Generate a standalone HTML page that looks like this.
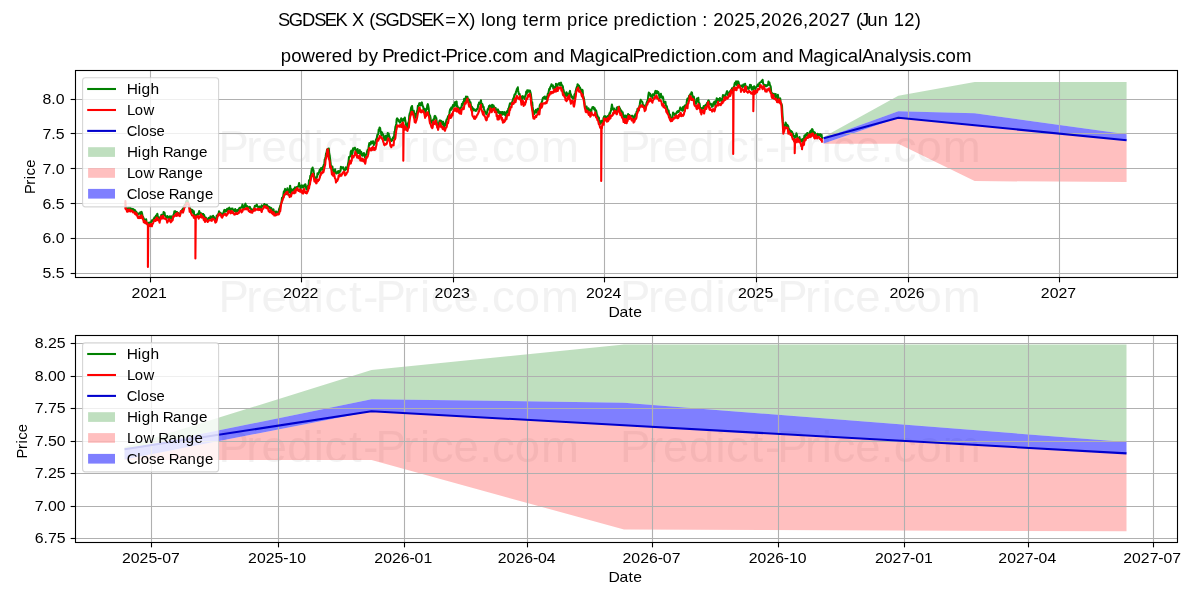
<!DOCTYPE html>
<html><head><meta charset="utf-8"><title>SGDSEK X long term price prediction</title>
<style>html,body{margin:0;padding:0;background:#fff;}svg{display:block;will-change:transform;font-family:"Liberation Sans",sans-serif;}</style></head>
<body><svg width="1200" height="600" viewBox="0 0 1200 600">
<rect x="0" y="0" width="1200" height="600" fill="#fff"/>
<text transform="translate(221.20,161.80) scale(1.0475,1)" x="-2.69 23.86 38.37 63.00 88.29 98.53 121.94 135.58 147.29 173.83 189.84 200.07 221.81 246.28 258.52 280.19 305.38" y="0" font-size="43.44" fill="#808080" fill-opacity="0.1">Predict-Price.com</text>
<text transform="translate(622.90,161.80) scale(1.0475,1)" x="-2.69 23.86 38.37 63.00 88.29 98.53 121.94 135.58 147.29 173.83 189.84 200.07 221.81 246.28 258.52 280.19 305.38" y="0" font-size="43.44" fill="#808080" fill-opacity="0.1">Predict-Price.com</text>
<text transform="translate(221.20,311.50) scale(1.0475,1)" x="-2.69 23.86 38.37 63.00 88.29 98.53 121.94 135.58 147.29 173.83 189.84 200.07 221.81 246.28 258.52 280.19 305.38" y="0" font-size="43.44" fill="#808080" fill-opacity="0.1">Predict-Price.com</text>
<text transform="translate(622.90,311.50) scale(1.0475,1)" x="-2.69 23.86 38.37 63.00 88.29 98.53 121.94 135.58 147.29 173.83 189.84 200.07 221.81 246.28 258.52 280.19 305.38" y="0" font-size="43.44" fill="#808080" fill-opacity="0.1">Predict-Price.com</text>
<text transform="translate(221.20,462.00) scale(1.0475,1)" x="-2.69 23.86 38.37 63.00 88.29 98.53 121.94 135.58 147.29 173.83 189.84 200.07 221.81 246.28 258.52 280.19 305.38" y="0" font-size="43.44" fill="#808080" fill-opacity="0.1">Predict-Price.com</text>
<text transform="translate(622.90,462.00) scale(1.0475,1)" x="-2.69 23.86 38.37 63.00 88.29 98.53 121.94 135.58 147.29 173.83 189.84 200.07 221.81 246.28 258.52 280.19 305.38" y="0" font-size="43.44" fill="#808080" fill-opacity="0.1">Predict-Price.com</text>
<clipPath id="clip1"><rect x="75.5" y="70.5" width="1102.0" height="207.0"/></clipPath>
<g clip-path="url(#clip1)">
<polygon points="823.64,136.90 898.32,95.73 974.66,82.07 1126.59,82.07 1126.59,134.27 974.66,113.18 898.32,111.31 823.64,138.24" fill="#008000" fill-opacity="0.25"/>
<polygon points="823.64,143.54 898.32,117.73 974.66,125.28 1126.59,140.32 1126.59,182.03 974.66,181.12 898.32,143.86 823.64,143.86" fill="#ff0000" fill-opacity="0.25"/>
<polygon points="823.64,138.24 898.32,111.31 974.66,113.18 1126.59,134.27 1126.59,140.32 974.66,125.28 898.32,117.73 823.64,143.54" fill="#0000ff" fill-opacity="0.5"/>
<line x1="75.5" x2="1177.5" y1="273.50" y2="273.50" stroke="#b0b0b0" stroke-width="1.11"/>
<line x1="75.5" x2="1177.5" y1="238.50" y2="238.50" stroke="#b0b0b0" stroke-width="1.11"/>
<line x1="75.5" x2="1177.5" y1="203.50" y2="203.50" stroke="#b0b0b0" stroke-width="1.11"/>
<line x1="75.5" x2="1177.5" y1="168.50" y2="168.50" stroke="#b0b0b0" stroke-width="1.11"/>
<line x1="75.5" x2="1177.5" y1="133.50" y2="133.50" stroke="#b0b0b0" stroke-width="1.11"/>
<line x1="75.5" x2="1177.5" y1="99.50" y2="99.50" stroke="#b0b0b0" stroke-width="1.11"/>
<line x1="150.50" x2="150.50" y1="70.5" y2="277.5" stroke="#b0b0b0" stroke-width="1.11"/>
<line x1="301.50" x2="301.50" y1="70.5" y2="277.5" stroke="#b0b0b0" stroke-width="1.11"/>
<line x1="453.50" x2="453.50" y1="70.5" y2="277.5" stroke="#b0b0b0" stroke-width="1.11"/>
<line x1="604.50" x2="604.50" y1="70.5" y2="277.5" stroke="#b0b0b0" stroke-width="1.11"/>
<line x1="756.50" x2="756.50" y1="70.5" y2="277.5" stroke="#b0b0b0" stroke-width="1.11"/>
<line x1="908.50" x2="908.50" y1="70.5" y2="277.5" stroke="#b0b0b0" stroke-width="1.11"/>
<line x1="1059.50" x2="1059.50" y1="70.5" y2="277.5" stroke="#b0b0b0" stroke-width="1.11"/>
<polyline points="125.4,207.1 125.9,207.1 126.3,207.3 126.8,208.1 127.2,208.5 127.7,208.8 128.1,209.7 128.6,209.7 129.0,207.4 129.4,207.7 129.9,208.2 130.3,207.8 130.8,208.6 131.2,210.2 131.7,210.2 132.1,208.8 132.6,209.1 133.0,209.8 133.5,209.2 133.9,211.3 134.4,211.4 134.8,210.0 135.3,212.4 135.7,212.0 136.2,211.6 136.6,212.4 137.1,213.9 137.5,214.8 138.0,214.8 138.4,213.5 138.9,213.8 139.3,213.4 139.8,213.7 140.2,212.3 140.7,213.8 141.1,214.7 141.6,211.9 142.0,213.2 142.5,216.0 142.9,216.7 143.4,217.8 143.8,218.9 144.3,219.7 144.7,221.2 145.2,221.4 145.6,220.5 146.1,219.2 146.5,221.7 147.0,223.5 147.4,222.7 147.9,223.4 148.3,224.0 148.8,222.7 149.2,222.6 149.7,223.5 150.1,222.5 150.6,222.4 151.0,222.2 151.5,221.4 151.9,220.3 152.4,221.1 152.8,221.1 153.3,219.8 153.7,219.2 154.2,218.1 154.6,217.3 155.1,217.3 155.5,216.8 156.0,215.6 156.4,216.1 156.9,216.0 157.3,213.7 157.8,215.8 158.2,217.0 158.7,218.3 159.1,218.0 159.6,218.2 160.0,217.5 160.5,217.0 160.9,216.1 161.4,214.8 161.8,216.1 162.3,216.8 162.7,215.1 163.2,215.1 163.6,212.1 164.1,212.5 164.5,212.7 165.0,215.7 165.4,216.1 165.9,216.4 166.3,218.1 166.8,217.1 167.2,216.0 167.7,216.5 168.1,217.8 168.6,218.4 169.0,216.7 169.5,216.7 169.9,216.3 170.4,218.1 170.8,217.1 171.3,216.4 171.7,218.7 172.2,219.5 172.6,217.7 173.1,217.5 173.5,214.7 174.0,213.9 174.4,211.4 174.9,212.2 175.3,211.3 175.8,212.5 176.2,212.3 176.7,212.0 177.1,212.0 177.6,213.4 178.0,212.8 178.5,213.8 178.9,214.4 179.4,214.2 179.8,214.5 180.3,213.8 180.7,211.4 181.2,212.0 181.6,210.9 182.1,210.0 182.5,209.6 183.0,208.8 183.4,209.0 183.9,206.2 184.3,206.8 184.8,204.8 185.2,204.8 185.7,204.2 186.1,201.7 186.6,200.9 187.0,200.3 187.5,200.4 187.9,201.9 188.4,203.4 188.8,205.7 189.3,205.9 189.7,208.3 190.2,208.4 190.6,209.1 191.1,210.8 191.5,211.3 192.0,212.1 192.4,209.9 192.9,212.7 193.3,212.4 193.8,211.3 194.2,215.3 194.7,215.5 195.1,215.1 195.6,216.0 196.0,215.1 196.5,215.6 196.9,214.7 197.4,214.1 197.8,214.3 198.3,213.3 198.7,214.5 199.2,211.0 199.6,212.4 200.1,212.8 200.5,213.5 201.0,214.5 201.4,213.4 201.9,215.6 202.3,214.3 202.8,214.8 203.2,214.0 203.7,216.1 204.1,214.9 204.6,217.1 205.0,218.1 205.5,218.3 205.9,217.7 206.4,219.1 206.8,219.1 207.3,219.3 207.7,219.1 208.2,219.4 208.6,217.9 209.1,218.0 209.5,218.0 210.0,218.0 210.4,216.4 210.9,218.0 211.3,217.6 211.8,216.7 212.2,217.5 212.7,218.5 213.1,215.7 213.6,218.7 214.0,217.1 214.5,218.4 214.9,218.6 215.4,219.3 215.8,219.4 216.3,218.6 216.7,215.7 217.2,215.5 217.6,215.1 218.1,214.1 218.5,214.6 219.0,211.4 219.4,213.3 219.9,213.1 220.3,212.7 220.8,213.1 221.2,214.7 221.7,214.7 222.1,214.6 222.6,213.9 223.0,214.1 223.5,212.7 223.9,211.2 224.4,209.9 224.8,211.7 225.3,211.7 225.7,210.1 226.2,211.3 226.6,210.3 227.1,208.8 227.5,210.8 228.0,210.5 228.4,208.5 228.9,208.3 229.3,207.7 229.8,209.0 230.2,209.8 230.7,210.5 231.1,209.4 231.6,208.6 232.0,209.5 232.5,208.5 232.9,209.8 233.4,210.2 233.8,210.1 234.3,211.4 234.7,211.0 235.2,209.1 235.6,211.1 236.1,211.9 236.5,210.3 237.0,210.5 237.4,211.2 237.9,209.9 238.3,209.9 238.8,210.0 239.2,208.2 239.7,207.8 240.1,208.1 240.6,208.2 241.0,207.5 241.5,207.0 241.9,207.1 242.4,204.6 242.8,206.0 243.3,208.4 243.7,208.2 244.2,207.6 244.6,206.1 245.1,204.5 245.5,203.7 246.0,206.6 246.4,206.0 246.9,205.9 247.3,206.3 247.8,207.1 248.2,208.7 248.7,207.8 249.1,207.2 249.6,206.8 250.0,207.1 250.5,208.6 250.9,208.7 251.4,209.7 251.8,209.6 252.3,210.1 252.7,211.3 253.2,210.2 253.6,208.8 254.1,209.9 254.5,207.2 255.0,205.7 255.4,206.0 255.9,206.2 256.3,205.3 256.8,204.6 257.2,206.2 257.7,206.3 258.1,206.8 258.6,208.4 259.0,207.5 259.5,206.6 259.9,206.6 260.4,207.5 260.8,209.5 261.3,207.9 261.7,205.3 262.2,206.1 262.6,206.5 263.1,206.4 263.5,206.7 264.0,205.0 264.4,204.0 264.9,205.1 265.3,205.4 265.8,205.0 266.2,204.9 266.7,205.2 267.1,205.1 267.6,206.5 268.0,207.2 268.5,206.5 268.9,206.9 269.4,207.7 269.8,207.3 270.3,208.0 270.7,210.0 271.2,207.9 271.6,208.8 272.1,209.9 272.5,210.0 273.0,210.0 273.4,209.4 273.9,211.1 274.3,212.0 274.8,214.4 275.2,212.6 275.7,213.0 276.1,211.4 276.6,212.2 277.0,212.1 277.5,212.7 277.9,212.4 278.4,213.0 278.8,210.6 279.3,208.4 279.7,208.1 280.2,205.9 280.6,204.9 281.1,203.4 281.5,202.4 282.0,197.8 282.4,198.2 282.9,198.2 283.3,195.3 283.8,191.8 284.2,191.6 284.7,190.4 285.1,188.9 285.6,192.0 286.0,194.3 286.5,191.9 286.9,192.5 287.4,188.4 287.8,190.8 288.3,194.4 288.7,192.6 289.2,192.1 289.6,189.7 290.1,185.7 290.5,188.4 291.0,193.1 291.4,191.2 291.9,189.4 292.3,190.6 292.8,190.0 293.2,190.7 293.7,189.3 294.1,188.6 294.6,190.3 295.0,187.4 295.5,187.8 295.9,189.5 296.4,189.0 296.8,187.1 297.3,187.9 297.7,186.5 298.2,186.5 298.6,185.8 299.1,183.0 299.5,185.9 300.0,185.5 300.4,188.1 300.9,187.9 301.3,186.9 301.8,185.4 302.2,185.6 302.7,187.4 303.1,185.6 303.6,186.5 304.0,186.8 304.5,185.9 304.9,184.4 305.4,184.3 305.8,186.1 306.3,189.2 306.7,188.9 307.2,189.8 307.6,187.5 308.1,185.6 308.5,187.0 309.0,180.4 309.4,180.1 309.9,179.5 310.3,175.9 310.8,176.4 311.2,172.9 311.7,169.2 312.1,168.9 312.6,167.5 313.0,169.0 313.5,170.4 313.9,174.0 314.4,177.7 314.8,177.3 315.3,181.3 315.7,180.9 316.2,177.4 316.6,177.2 317.1,177.0 317.5,173.3 318.0,174.1 318.4,174.2 318.9,172.7 319.3,171.2 319.8,169.5 320.2,171.8 320.7,169.9 321.1,168.0 321.6,169.3 322.0,168.9 322.5,169.6 322.9,166.9 323.4,166.3 323.8,164.9 324.3,164.3 324.7,159.7 325.2,158.3 325.6,157.0 326.1,153.4 326.5,152.8 327.0,149.8 327.4,149.6 327.9,148.8 328.3,150.8 328.8,148.6 329.2,153.6 329.7,155.6 330.1,159.1 330.6,163.2 331.0,166.9 331.5,168.6 331.9,168.8 332.4,166.6 332.8,169.6 333.3,171.2 333.7,172.0 334.2,171.3 334.6,172.8 335.1,169.3 335.5,172.4 336.0,171.9 336.4,173.5 336.9,173.3 337.3,172.2 337.8,171.8 338.2,171.1 338.7,173.0 339.1,171.2 339.6,172.3 340.0,170.9 340.5,170.9 340.9,166.9 341.4,168.4 341.8,167.9 342.3,167.6 342.7,167.2 343.2,167.3 343.6,169.2 344.1,170.1 344.5,170.1 345.0,170.0 345.4,169.8 345.9,167.3 346.3,169.1 346.8,168.4 347.2,167.8 347.7,166.2 348.1,163.7 348.6,161.1 349.0,157.1 349.5,156.7 349.9,156.6 350.4,155.8 350.8,151.6 351.3,150.6 351.7,156.0 352.2,154.1 352.6,152.3 353.1,148.4 353.5,150.0 354.0,148.9 354.4,148.1 354.9,147.7 355.3,148.7 355.8,150.3 356.2,150.1 356.7,150.4 357.1,153.3 357.6,149.1 358.0,152.5 358.5,153.0 358.9,151.2 359.4,150.4 359.8,150.2 360.3,154.3 360.7,152.5 361.2,151.9 361.6,152.8 362.1,155.6 362.5,155.6 363.0,155.2 363.4,154.9 363.9,153.1 364.3,154.7 364.8,156.9 365.2,158.0 365.7,155.6 366.1,154.4 366.6,154.0 367.0,151.9 367.5,150.3 367.9,149.6 368.4,149.3 368.8,146.0 369.3,143.1 369.7,144.7 370.2,144.3 370.6,144.4 371.1,141.6 371.5,142.8 372.0,142.9 372.4,142.2 372.9,141.3 373.3,141.2 373.8,145.1 374.2,144.1 374.7,143.8 375.1,143.5 375.6,141.5 376.0,139.4 376.5,139.9 376.9,137.4 377.4,134.8 377.8,134.9 378.3,133.9 378.7,129.7 379.2,129.4 379.6,127.6 380.1,128.0 380.5,130.9 381.0,132.4 381.4,135.1 381.9,132.2 382.3,133.1 382.8,134.5 383.2,134.5 383.7,138.7 384.1,138.7 384.6,139.3 385.0,140.2 385.5,135.8 385.9,136.0 386.4,136.1 386.8,139.9 387.3,136.5 387.7,133.1 388.2,135.4 388.6,133.5 389.1,136.5 389.5,136.6 390.0,139.2 390.4,140.1 390.9,139.4 391.3,141.1 391.8,140.7 392.2,140.2 392.7,138.3 393.1,137.4 393.6,138.3 394.0,137.9 394.5,131.6 394.9,131.4 395.4,126.9 395.8,126.0 396.3,123.7 396.7,119.2 397.2,118.3 397.6,119.0 398.1,120.4 398.5,119.6 399.0,121.5 399.4,121.0 399.9,122.7 400.3,122.0 400.8,120.3 401.2,118.3 401.7,119.2 402.1,120.1 402.6,121.2 403.0,119.5 403.5,118.9 403.9,119.1 404.4,120.4 404.8,117.5 405.3,120.8 405.7,122.7 406.2,125.3 406.6,127.4 407.1,130.0 407.5,128.8 408.0,123.3 408.4,122.6 408.9,121.0 409.3,115.4 409.8,113.2 410.2,112.8 410.7,110.1 411.1,107.8 411.6,106.8 412.0,106.0 412.5,109.9 412.9,111.9 413.4,111.6 413.8,110.8 414.3,114.5 414.7,118.1 415.2,116.2 415.6,117.8 416.1,113.7 416.5,113.9 417.0,111.1 417.4,110.8 417.9,105.8 418.3,106.1 418.8,105.7 419.2,103.3 419.7,104.0 420.1,103.2 420.6,105.5 421.0,105.1 421.5,104.0 421.9,102.4 422.4,105.2 422.8,106.1 423.3,107.2 423.7,109.7 424.2,108.7 424.6,109.5 425.1,112.9 425.5,112.9 426.0,110.3 426.4,108.6 426.9,108.9 427.3,105.3 427.8,104.1 428.2,105.8 428.7,108.5 429.1,113.8 429.6,116.2 430.0,115.4 430.5,117.7 430.9,121.4 431.4,122.4 431.8,121.0 432.3,123.4 432.7,120.4 433.2,119.9 433.6,119.1 434.1,119.6 434.5,116.3 435.0,115.9 435.4,116.3 435.9,117.8 436.3,118.1 436.8,122.5 437.2,125.5 437.7,126.0 438.1,126.4 438.6,123.5 439.0,122.9 439.5,120.8 439.9,120.3 440.4,120.7 440.8,122.7 441.3,120.9 441.7,123.6 442.2,123.2 442.6,124.5 443.1,121.8 443.5,123.2 444.0,127.4 444.4,127.4 444.9,123.8 445.3,125.1 445.8,123.5 446.2,121.0 446.7,119.4 447.1,119.5 447.6,118.2 448.0,116.5 448.5,115.9 448.9,115.2 449.4,113.5 449.8,110.7 450.3,109.0 450.7,110.0 451.2,107.6 451.6,109.6 452.1,107.7 452.5,106.9 453.0,105.0 453.4,105.1 453.9,106.6 454.3,105.1 454.8,102.2 455.2,105.8 455.7,103.4 456.1,101.8 456.6,101.5 457.0,106.3 457.5,106.1 457.9,107.9 458.4,107.5 458.8,108.8 459.3,109.0 459.7,109.5 460.2,109.4 460.6,107.7 461.1,107.4 461.5,107.0 462.0,103.7 462.4,105.2 462.9,104.1 463.3,101.8 463.8,102.3 464.2,98.7 464.7,103.2 465.1,100.9 465.6,99.4 466.0,96.6 466.5,99.2 466.9,98.6 467.4,96.8 467.8,99.1 468.3,100.2 468.7,99.4 469.2,99.6 469.6,101.6 470.1,102.9 470.5,102.3 471.0,105.8 471.4,108.6 471.9,106.8 472.3,108.8 472.8,108.1 473.2,109.8 473.7,110.5 474.1,110.2 474.6,109.3 475.0,110.3 475.5,110.8 475.9,110.9 476.4,110.6 476.8,109.3 477.3,108.8 477.7,108.9 478.2,104.8 478.6,104.5 479.1,102.5 479.5,102.9 480.0,104.1 480.4,103.9 480.9,100.2 481.3,103.1 481.8,104.4 482.2,103.8 482.7,105.1 483.1,107.2 483.6,106.8 484.0,108.9 484.5,110.9 484.9,111.3 485.4,112.7 485.8,112.3 486.3,114.3 486.7,113.8 487.2,111.9 487.6,109.7 488.1,108.6 488.5,109.5 489.0,106.1 489.4,106.5 489.9,105.4 490.3,107.0 490.8,110.1 491.2,107.3 491.7,106.2 492.1,104.8 492.6,106.5 493.0,107.2 493.5,105.4 493.9,106.7 494.4,107.2 494.8,109.1 495.3,109.9 495.7,108.1 496.2,110.6 496.6,109.6 497.1,110.1 497.5,112.3 498.0,109.4 498.4,112.6 498.9,112.0 499.3,111.6 499.8,113.6 500.2,114.8 500.7,112.2 501.1,112.1 501.6,113.3 502.0,114.8 502.5,112.1 502.9,114.5 503.4,112.4 503.8,113.9 504.3,113.1 504.7,112.1 505.2,115.3 505.6,114.3 506.1,116.3 506.5,113.7 507.0,111.2 507.4,111.1 507.9,112.5 508.3,108.6 508.8,109.2 509.2,106.5 509.7,104.4 510.1,103.2 510.6,103.5 511.0,103.5 511.5,104.0 511.9,103.0 512.4,101.7 512.8,100.0 513.3,98.4 513.7,98.5 514.2,96.0 514.6,94.5 515.1,94.1 515.5,94.3 516.0,91.8 516.4,91.0 516.9,89.1 517.3,88.7 517.8,87.3 518.2,90.9 518.7,93.3 519.1,94.3 519.6,93.9 520.0,96.2 520.5,96.5 520.9,96.7 521.4,100.3 521.8,100.7 522.3,96.4 522.7,96.1 523.2,97.4 523.6,96.7 524.1,97.7 524.5,98.9 525.0,96.3 525.4,96.4 525.9,94.0 526.3,91.5 526.8,93.5 527.2,90.3 527.7,90.8 528.1,90.3 528.6,91.7 529.0,91.8 529.5,90.7 529.9,90.5 530.4,92.2 530.8,93.9 531.3,97.9 531.7,103.7 532.2,102.3 532.6,106.7 533.1,110.8 533.5,110.7 534.0,114.3 534.4,112.2 534.9,111.8 535.3,112.3 535.8,109.9 536.2,112.6 536.7,112.4 537.1,111.5 537.6,108.7 538.0,109.7 538.5,111.1 538.9,110.8 539.4,108.6 539.8,105.2 540.3,104.3 540.7,104.1 541.2,105.7 541.6,102.5 542.1,101.4 542.5,99.4 543.0,97.7 543.4,98.1 543.9,97.1 544.3,97.8 544.8,96.5 545.2,98.7 545.7,97.6 546.1,97.3 546.6,99.6 547.0,96.6 547.5,95.8 547.9,93.5 548.4,93.9 548.8,91.0 549.3,88.8 549.7,89.5 550.2,87.2 550.6,86.6 551.1,85.8 551.5,84.2 552.0,85.9 552.4,85.6 552.9,85.4 553.3,88.5 553.8,87.8 554.2,88.1 554.7,86.9 555.1,86.8 555.6,87.6 556.0,83.7 556.5,86.5 556.9,87.0 557.4,86.5 557.8,84.6 558.3,83.9 558.7,83.5 559.2,83.1 559.6,83.5 560.1,85.5 560.5,83.6 561.0,82.7 561.4,84.5 561.9,85.0 562.3,86.1 562.8,86.3 563.2,89.0 563.7,90.8 564.1,92.9 564.6,94.2 565.0,93.6 565.5,96.5 565.9,94.9 566.4,92.2 566.8,94.8 567.3,93.4 567.7,96.3 568.2,94.1 568.6,95.6 569.1,96.5 569.5,92.3 570.0,90.9 570.4,94.1 570.9,94.3 571.3,97.1 571.8,96.1 572.2,96.9 572.7,98.4 573.1,98.8 573.6,98.7 574.0,98.5 574.5,94.5 574.9,94.3 575.4,92.5 575.8,90.6 576.3,88.9 576.7,87.3 577.2,86.1 577.6,84.3 578.1,85.4 578.5,86.5 579.0,85.6 579.4,87.7 579.9,87.3 580.3,88.3 580.8,90.0 581.2,90.8 581.7,91.5 582.1,89.7 582.6,90.2 583.0,95.2 583.5,97.2 583.9,98.1 584.4,101.9 584.8,105.7 585.3,108.3 585.7,107.5 586.2,106.5 586.6,106.6 587.1,111.4 587.5,111.8 588.0,110.3 588.4,108.3 588.9,109.4 589.3,110.3 589.8,110.7 590.2,109.8 590.7,111.3 591.1,112.4 591.6,109.3 592.0,108.4 592.5,107.2 592.9,107.5 593.4,107.0 593.8,108.6 594.3,109.5 594.7,108.3 595.2,110.6 595.6,111.5 596.1,110.4 596.5,112.5 597.0,115.2 597.4,115.3 597.9,118.3 598.3,119.8 598.8,117.5 599.2,119.9 599.7,122.2 600.1,123.9 600.6,123.2 601.0,123.0 601.5,120.7 601.9,121.0 602.4,122.3 602.8,121.0 603.3,119.3 603.7,117.6 604.2,116.4 604.6,117.1 605.1,116.1 605.5,118.4 606.0,120.4 606.4,116.9 606.9,117.7 607.3,118.1 607.8,115.9 608.2,115.8 608.7,116.0 609.2,114.7 609.6,113.1 610.1,113.5 610.5,111.6 611.0,110.5 611.4,108.3 611.9,104.6 612.3,106.4 612.8,109.1 613.2,109.2 613.7,110.2 614.1,108.5 614.6,112.8 615.0,110.8 615.5,111.2 615.9,112.0 616.4,110.1 616.8,107.7 617.3,107.2 617.7,107.8 618.2,109.8 618.6,107.5 619.1,106.7 619.5,108.3 620.0,108.5 620.4,110.4 620.9,110.9 621.3,110.5 621.8,112.6 622.2,112.2 622.7,112.3 623.1,114.8 623.6,116.9 624.0,115.6 624.5,116.4 624.9,117.6 625.4,115.6 625.8,117.6 626.3,117.6 626.7,115.9 627.2,119.0 627.6,116.3 628.1,114.0 628.5,115.2 629.0,116.9 629.4,115.0 629.9,117.8 630.3,116.3 630.8,116.2 631.2,116.4 631.7,115.8 632.1,115.7 632.6,115.8 633.0,116.6 633.5,118.7 633.9,118.7 634.4,118.7 634.8,117.0 635.3,114.2 635.7,115.4 636.2,114.0 636.6,111.6 637.1,111.4 637.5,108.9 638.0,109.8 638.4,110.1 638.9,110.4 639.3,106.4 639.8,104.4 640.2,101.6 640.7,99.7 641.1,101.3 641.6,101.2 642.0,101.6 642.5,102.5 642.9,105.8 643.4,106.4 643.8,105.2 644.3,106.0 644.7,108.7 645.2,108.9 645.6,106.9 646.1,105.3 646.5,103.1 647.0,101.8 647.4,101.1 647.9,99.7 648.3,95.6 648.8,92.6 649.2,93.2 649.7,94.3 650.1,93.7 650.6,96.1 651.0,95.5 651.5,95.6 651.9,95.9 652.4,98.0 652.8,94.2 653.3,94.5 653.7,94.9 654.2,95.2 654.6,93.9 655.1,92.1 655.5,90.9 656.0,91.0 656.4,93.1 656.9,93.2 657.3,91.2 657.8,93.0 658.2,91.9 658.7,93.4 659.1,95.4 659.6,98.2 660.0,96.1 660.5,95.1 660.9,93.8 661.4,96.9 661.8,97.5 662.3,97.8 662.7,96.6 663.2,98.1 663.6,101.0 664.1,102.6 664.5,102.7 665.0,103.1 665.4,101.7 665.9,105.8 666.3,105.7 666.8,106.3 667.2,108.4 667.7,110.0 668.1,111.7 668.6,110.4 669.0,113.8 669.5,114.4 669.9,114.5 670.4,118.1 670.8,118.6 671.3,120.0 671.7,118.0 672.2,118.7 672.6,115.8 673.1,112.5 673.5,114.1 674.0,114.2 674.4,113.8 674.9,115.1 675.3,113.7 675.8,114.1 676.2,113.4 676.7,112.4 677.1,111.6 677.6,112.4 678.0,111.1 678.5,111.8 678.9,111.3 679.4,110.6 679.8,109.3 680.3,107.4 680.7,108.0 681.2,109.7 681.6,110.0 682.1,108.6 682.5,110.8 683.0,107.1 683.4,110.2 683.9,106.6 684.3,107.5 684.8,105.5 685.2,106.7 685.7,107.3 686.1,105.6 686.6,103.2 687.0,100.3 687.5,98.5 687.9,99.0 688.4,99.3 688.8,97.5 689.3,95.5 689.7,96.1 690.2,94.5 690.6,94.0 691.1,94.1 691.5,92.2 692.0,92.7 692.4,96.6 692.9,96.3 693.3,97.9 693.8,96.6 694.2,98.9 694.7,102.8 695.1,103.0 695.6,103.2 696.0,103.8 696.5,101.9 696.9,98.5 697.4,99.3 697.8,99.3 698.3,97.8 698.7,102.3 699.2,102.9 699.6,103.7 700.1,108.3 700.5,108.9 701.0,107.9 701.4,109.3 701.9,109.9 702.3,109.4 702.8,107.7 703.2,107.9 703.7,106.1 704.1,108.1 704.6,107.3 705.0,105.7 705.5,105.0 705.9,106.0 706.4,105.4 706.8,103.3 707.3,102.7 707.7,102.8 708.2,100.8 708.6,100.4 709.1,101.4 709.5,103.9 710.0,104.3 710.4,103.8 710.9,103.7 711.3,104.4 711.8,106.8 712.2,106.0 712.7,106.5 713.1,103.9 713.6,102.9 714.0,102.3 714.5,101.6 714.9,104.5 715.4,105.4 715.8,101.1 716.3,102.4 716.7,98.3 717.2,99.4 717.6,99.6 718.1,99.0 718.5,101.5 719.0,99.3 719.4,100.7 719.9,98.1 720.3,98.7 720.8,100.3 721.2,100.8 721.7,101.3 722.1,99.8 722.6,97.3 723.0,95.0 723.5,96.2 723.9,97.0 724.4,96.2 724.8,95.3 725.3,97.3 725.7,94.1 726.2,93.9 726.6,92.2 727.1,91.1 727.5,92.5 728.0,95.1 728.4,92.8 728.9,93.1 729.3,92.2 729.8,92.1 730.2,91.0 730.7,90.6 731.1,90.9 731.6,90.0 732.0,88.2 732.5,89.8 732.9,90.4 733.4,87.9 733.8,87.0 734.3,85.3 734.7,83.4 735.2,82.6 735.6,84.5 736.1,81.4 736.5,81.9 737.0,85.0 737.4,82.1 737.9,81.4 738.3,81.5 738.8,83.0 739.2,87.1 739.7,85.5 740.1,85.9 740.6,86.0 741.0,85.7 741.5,86.2 741.9,85.6 742.4,86.1 742.8,87.1 743.3,84.5 743.7,84.8 744.2,84.5 744.6,85.7 745.1,83.7 745.5,86.9 746.0,87.6 746.4,87.7 746.9,86.7 747.3,87.5 747.8,88.7 748.2,87.6 748.7,88.9 749.1,87.4 749.6,87.6 750.0,84.7 750.5,86.7 750.9,85.1 751.4,87.7 751.8,89.6 752.3,87.2 752.7,87.2 753.2,89.6 753.6,87.3 754.1,86.3 754.5,87.5 755.0,88.0 755.4,89.0 755.9,87.3 756.3,87.2 756.8,86.3 757.2,86.2 757.7,84.5 758.1,85.6 758.6,85.9 759.0,84.4 759.5,82.9 759.9,82.9 760.4,82.3 760.8,82.0 761.3,82.0 761.7,80.9 762.2,81.8 762.6,79.8 763.1,83.3 763.5,84.1 764.0,85.2 764.4,86.0 764.9,85.0 765.3,86.0 765.8,85.4 766.2,85.7 766.7,86.2 767.1,85.2 767.6,84.5 768.0,85.2 768.5,81.5 768.9,83.2 769.4,82.6 769.8,84.8 770.3,85.8 770.7,86.6 771.2,92.0 771.6,93.1 772.1,93.1 772.5,94.3 773.0,94.1 773.4,95.4 773.9,93.8 774.3,95.3 774.8,96.6 775.2,96.7 775.7,94.1 776.1,99.5 776.6,99.4 777.0,100.1 777.5,97.5 777.9,94.9 778.4,97.9 778.8,98.4 779.3,100.6 779.7,99.1 780.2,98.3 780.6,102.6 781.1,103.7 781.5,104.1 782.0,105.8 782.4,113.4 782.9,121.9 783.3,126.2 783.8,127.3 784.2,126.3 784.7,124.7 785.1,127.2 785.6,122.6 786.0,123.5 786.5,126.2 786.9,124.7 787.4,124.9 787.8,125.6 788.3,126.5 788.7,129.3 789.2,129.2 789.6,129.5 790.1,130.8 790.5,131.9 791.0,131.0 791.4,132.5 791.9,131.7 792.3,136.1 792.8,133.3 793.2,135.0 793.7,135.9 794.1,136.7 794.6,138.0 795.0,137.7 795.5,135.6 795.9,136.2 796.4,133.3 796.8,134.4 797.3,137.3 797.7,139.6 798.2,139.8 798.6,139.5 799.1,139.0 799.5,137.1 800.0,140.7 800.4,141.3 800.9,141.8 801.3,139.6 801.8,140.9 802.2,140.2 802.7,139.1 803.1,143.0 803.6,140.8 804.0,138.1 804.5,135.5 804.9,138.5 805.4,136.0 805.8,134.6 806.3,134.8 806.7,133.8 807.2,133.0 807.6,135.6 808.1,137.5 808.5,135.4 809.0,133.6 809.4,133.6 809.9,131.9 810.3,131.5 810.8,130.6 811.2,133.4 811.7,132.5 812.1,129.0 812.6,129.7 813.0,132.5 813.5,131.7 813.9,133.2 814.4,134.1 814.8,132.4 815.3,133.9 815.7,137.6 816.2,135.1 816.6,136.2 817.1,135.1 817.5,133.8 818.0,134.1 818.4,135.0 818.9,134.3 819.3,135.3 819.8,135.2 820.2,134.2 820.7,136.3 821.1,136.0 821.6,134.8 822.0,138.3 822.5,136.8" fill="none" stroke="#008000" stroke-width="2.08" stroke-linejoin="round"/>
<polyline points="125.4,209.0 125.4,201.0 125.8,209.0 125.4,208.7 125.9,209.3 126.3,208.9 126.8,210.9 127.2,211.8 127.7,211.8 128.1,209.9 128.6,211.3 129.0,209.5 129.4,209.6 129.9,210.7 130.3,211.4 130.8,211.4 131.2,210.4 131.7,211.2 132.1,210.7 132.6,211.1 133.0,212.4 133.5,212.2 133.9,212.2 134.4,212.2 134.8,213.7 135.3,214.1 135.7,212.5 136.2,214.0 136.6,215.4 137.1,214.3 137.5,216.1 138.0,217.9 138.4,217.5 138.9,218.1 139.3,217.4 139.8,216.3 140.2,218.0 140.7,215.9 141.1,217.9 141.6,215.3 142.0,217.1 142.5,216.9 142.9,219.5 143.4,220.2 143.8,222.2 144.3,222.5 144.7,221.0 145.2,223.2 145.6,221.3 146.1,223.6 146.5,223.7 147.0,222.9 147.4,224.6 147.9,225.3 147.9,225.0 147.9,267.0 148.3,225.0 148.3,225.2 148.8,224.5 149.2,225.8 149.7,224.5 150.1,226.2 150.6,224.1 151.0,224.5 151.5,226.2 151.9,226.2 152.4,223.5 152.8,223.8 153.3,222.6 153.7,221.4 154.2,220.0 154.6,220.1 155.1,220.1 155.5,221.0 156.0,218.7 156.4,217.9 156.9,217.5 157.3,220.1 157.8,218.5 158.2,219.8 158.7,219.8 159.1,220.9 159.6,222.8 160.0,220.4 160.5,219.5 160.9,216.4 161.4,218.5 161.8,218.0 162.3,218.5 162.7,215.9 163.2,215.9 163.6,217.7 164.1,218.6 164.5,218.8 165.0,218.6 165.4,218.4 165.9,219.4 166.3,219.2 166.8,220.4 167.2,222.6 167.7,221.8 168.1,220.9 168.6,220.7 169.0,219.1 169.5,220.7 169.9,219.8 170.4,221.5 170.8,222.3 171.3,221.1 171.7,221.3 172.2,219.6 172.6,220.4 173.1,216.8 173.5,216.4 174.0,216.1 174.4,216.3 174.9,215.3 175.3,215.7 175.8,214.0 176.2,214.4 176.7,216.0 177.1,213.3 177.6,212.8 178.0,214.9 178.5,215.4 178.9,215.3 179.4,215.0 179.8,216.2 180.3,214.4 180.7,212.4 181.2,211.0 181.6,210.8 182.1,211.3 182.5,210.8 183.0,212.6 183.4,211.5 183.9,209.8 184.3,208.1 184.8,205.8 185.2,206.9 185.7,205.8 186.1,205.2 186.6,202.9 187.0,204.0 187.5,203.3 187.9,203.1 188.4,203.9 188.8,204.7 189.3,208.3 189.7,211.8 190.2,210.0 190.6,212.0 191.1,213.5 191.5,214.2 192.0,215.4 192.4,215.3 192.9,216.0 193.3,215.4 193.8,217.7 194.2,217.4 194.7,216.3 195.1,218.9 195.4,217.4 195.4,258.5 195.8,217.4 195.6,218.7 196.0,216.9 196.5,217.3 196.9,217.1 197.4,216.0 197.8,217.3 198.3,216.1 198.7,218.6 199.2,217.4 199.6,216.6 200.1,217.2 200.5,216.2 201.0,214.2 201.4,215.8 201.9,217.6 202.3,215.9 202.8,217.0 203.2,217.0 203.7,219.9 204.1,218.1 204.6,220.6 205.0,222.0 205.5,220.3 205.9,218.7 206.4,220.4 206.8,220.6 207.3,221.5 207.7,221.9 208.2,221.0 208.6,220.9 209.1,220.1 209.5,220.2 210.0,220.2 210.4,220.0 210.9,220.4 211.3,220.7 211.8,220.9 212.2,218.8 212.7,218.9 213.1,218.9 213.6,219.0 214.0,219.7 214.5,219.7 214.9,221.0 215.4,222.6 215.8,221.6 216.3,221.8 216.7,220.5 217.2,218.2 217.6,216.4 218.1,215.9 218.5,214.2 219.0,214.2 219.4,213.5 219.9,213.6 220.3,215.4 220.8,214.4 221.2,216.0 221.7,217.5 222.1,217.6 222.6,216.8 223.0,215.9 223.5,214.6 223.9,214.9 224.4,214.5 224.8,213.9 225.3,214.7 225.7,214.1 226.2,215.7 226.6,215.5 227.1,214.1 227.5,214.3 228.0,211.6 228.4,212.9 228.9,210.9 229.3,211.1 229.8,211.7 230.2,212.4 230.7,213.4 231.1,211.3 231.6,210.9 232.0,211.9 232.5,213.1 232.9,212.0 233.4,212.8 233.8,213.4 234.3,214.6 234.7,214.4 235.2,214.5 235.6,213.9 236.1,212.9 236.5,213.8 237.0,213.5 237.4,213.9 237.9,213.3 238.3,212.7 238.8,213.1 239.2,211.6 239.7,211.2 240.1,210.0 240.6,209.9 241.0,210.7 241.5,212.5 241.9,211.9 242.4,211.5 242.8,209.3 243.3,209.6 243.7,209.3 244.2,209.4 244.6,209.1 245.1,208.8 245.5,209.2 246.0,208.5 246.4,208.1 246.9,209.5 247.3,208.3 247.8,209.4 248.2,208.7 248.7,211.0 249.1,210.7 249.6,211.9 250.0,211.9 250.5,210.7 250.9,212.4 251.4,211.3 251.8,211.5 252.3,212.8 252.7,211.2 253.2,211.0 253.6,210.1 254.1,208.5 254.5,210.8 255.0,208.8 255.4,210.5 255.9,209.8 256.3,209.3 256.8,209.2 257.2,209.2 257.7,209.8 258.1,208.8 258.6,208.8 259.0,210.1 259.5,209.5 259.9,208.8 260.4,209.8 260.8,210.5 261.3,209.2 261.7,212.0 262.2,209.7 262.6,209.3 263.1,208.6 263.5,208.4 264.0,206.3 264.4,207.1 264.9,206.3 265.3,206.2 265.8,207.4 266.2,208.1 266.7,206.7 267.1,208.2 267.6,208.5 268.0,208.1 268.5,210.9 268.9,210.5 269.4,212.0 269.8,212.2 270.3,211.6 270.7,209.8 271.2,212.0 271.6,213.0 272.1,213.3 272.5,211.7 273.0,214.3 273.4,213.1 273.9,212.6 274.3,215.5 274.8,215.5 275.2,214.8 275.7,215.4 276.1,214.2 276.6,215.0 277.0,213.7 277.5,213.9 277.9,214.5 278.4,214.1 278.8,214.4 279.3,213.1 279.7,211.0 280.2,211.3 280.6,208.4 281.1,204.3 281.5,203.0 282.0,200.9 282.4,200.8 282.9,199.0 283.3,197.8 283.8,197.4 284.2,194.7 284.7,194.9 285.1,193.8 285.6,193.9 286.0,192.6 286.5,192.2 286.9,193.3 287.4,191.8 287.8,193.8 288.3,194.7 288.7,194.6 289.2,195.6 289.6,197.1 290.1,194.9 290.5,195.8 291.0,196.4 291.4,194.9 291.9,193.4 292.3,192.4 292.8,192.8 293.2,192.4 293.7,193.0 294.1,193.3 294.6,190.6 295.0,191.7 295.5,192.7 295.9,189.2 296.4,190.3 296.8,190.3 297.3,187.9 297.7,189.2 298.2,190.2 298.6,191.0 299.1,190.4 299.5,189.5 300.0,191.7 300.4,190.5 300.9,189.7 301.3,192.2 301.8,192.6 302.2,191.3 302.7,190.7 303.1,193.6 303.6,190.6 304.0,188.8 304.5,190.3 304.9,191.6 305.4,192.9 305.8,191.9 306.3,192.3 306.7,193.4 307.2,192.7 307.6,190.8 308.1,190.8 308.5,186.4 309.0,188.6 309.4,185.5 309.9,184.7 310.3,181.7 310.8,180.2 311.2,177.0 311.7,176.3 312.1,174.7 312.6,174.2 313.0,173.7 313.5,176.0 313.9,178.0 314.4,181.4 314.8,181.1 315.3,179.5 315.7,182.1 316.2,183.4 316.6,183.2 317.1,179.3 317.5,181.4 318.0,181.2 318.4,180.0 318.9,180.1 319.3,179.0 319.8,177.7 320.2,175.5 320.7,175.3 321.1,172.6 321.6,173.1 322.0,173.3 322.5,172.4 322.9,171.3 323.4,172.3 323.8,170.7 324.3,168.4 324.7,166.6 325.2,164.4 325.6,160.0 326.1,157.7 326.5,156.8 327.0,152.8 327.4,149.4 327.9,149.4 328.3,152.0 328.8,158.8 329.2,159.4 329.7,161.7 330.1,167.5 330.6,166.1 331.0,167.1 331.5,170.8 331.9,174.3 332.4,172.3 332.8,175.5 333.3,174.3 333.7,176.0 334.2,173.2 334.6,176.9 335.1,178.7 335.5,178.7 336.0,182.5 336.4,180.3 336.9,180.9 337.3,181.0 337.8,179.5 338.2,178.5 338.7,175.3 339.1,176.4 339.6,176.4 340.0,174.4 340.5,175.4 340.9,174.3 341.4,175.8 341.8,174.3 342.3,174.2 342.7,172.6 343.2,172.6 343.6,171.9 344.1,171.5 344.5,171.9 345.0,175.4 345.4,174.0 345.9,174.7 346.3,174.1 346.8,172.8 347.2,172.6 347.7,171.7 348.1,168.6 348.6,166.3 349.0,164.4 349.5,162.4 349.9,160.6 350.4,161.5 350.8,163.6 351.3,160.8 351.7,160.8 352.2,155.5 352.6,157.1 353.1,157.4 353.5,157.4 354.0,155.8 354.4,155.6 354.9,154.9 355.3,151.6 355.8,153.9 356.2,153.5 356.7,155.6 357.1,157.5 357.6,155.4 358.0,157.2 358.5,158.2 358.9,156.6 359.4,158.3 359.8,155.3 360.3,160.4 360.7,158.1 361.2,158.7 361.6,160.7 362.1,158.6 362.5,158.9 363.0,160.1 363.4,161.5 363.9,159.4 364.3,159.7 364.8,162.0 365.2,163.8 365.7,161.0 366.1,157.0 366.6,158.2 367.0,156.8 367.5,156.8 367.9,155.6 368.4,153.4 368.8,150.5 369.3,148.1 369.7,149.7 370.2,148.7 370.6,149.9 371.1,150.5 371.5,148.1 372.0,150.0 372.4,147.6 372.9,146.9 373.3,149.7 373.8,148.7 374.2,149.9 374.7,147.9 375.1,149.8 375.6,148.9 376.0,146.6 376.5,144.8 376.9,140.7 377.4,140.5 377.8,138.9 378.3,140.7 378.7,138.2 379.2,138.7 379.6,136.1 380.1,136.1 380.5,136.9 381.0,137.7 381.4,137.3 381.9,138.0 382.3,139.4 382.8,139.4 383.2,141.8 383.7,142.7 384.1,144.7 384.6,145.3 385.0,144.8 385.5,144.2 385.9,143.8 386.4,144.3 386.8,143.6 387.3,141.4 387.7,139.7 388.2,138.2 388.6,139.6 389.1,139.3 389.5,140.4 390.0,142.6 390.4,146.0 390.9,145.0 391.3,147.2 391.8,145.3 392.2,145.6 392.7,144.9 393.1,144.8 393.6,145.5 394.0,140.4 394.5,139.8 394.9,139.4 395.4,138.1 395.8,133.8 396.3,130.2 396.7,128.7 397.2,125.6 397.6,125.3 398.1,126.4 398.5,126.3 399.0,125.5 399.4,126.8 399.9,125.7 400.3,124.8 400.8,126.7 401.2,126.9 401.7,127.1 402.1,123.4 402.6,122.7 403.0,122.6 403.3,124.6 403.3,160.8 403.7,124.6 403.5,124.3 403.9,125.6 404.4,127.2 404.8,127.7 405.3,129.7 405.7,126.8 406.2,129.3 406.6,128.7 407.1,130.2 407.5,130.9 408.0,128.5 408.4,128.2 408.9,127.4 409.3,122.8 409.8,119.4 410.2,116.6 410.7,115.6 411.1,113.7 411.6,111.7 412.0,113.5 412.5,112.0 412.9,114.6 413.4,114.1 413.8,117.1 414.3,118.5 414.7,122.2 415.2,121.8 415.6,122.7 416.1,121.0 416.5,120.0 417.0,118.3 417.4,116.1 417.9,113.0 418.3,112.0 418.8,110.0 419.2,107.5 419.7,107.7 420.1,110.5 420.6,112.3 421.0,111.4 421.5,112.4 421.9,110.3 422.4,110.3 422.8,111.6 423.3,112.1 423.7,111.4 424.2,113.5 424.6,114.8 425.1,117.9 425.5,114.9 426.0,116.3 426.4,113.1 426.9,112.6 427.3,112.3 427.8,112.5 428.2,115.3 428.7,115.7 429.1,117.3 429.6,121.1 430.0,123.2 430.5,124.1 430.9,125.0 431.4,127.0 431.8,127.4 432.3,128.2 432.7,127.1 433.2,121.8 433.6,124.3 434.1,124.1 434.5,123.5 435.0,122.3 435.4,120.4 435.9,120.8 436.3,124.8 436.8,123.7 437.2,127.6 437.7,126.7 438.1,129.9 438.6,127.4 439.0,126.0 439.5,126.5 439.9,122.8 440.4,123.3 440.8,125.0 441.3,127.2 441.7,127.3 442.2,126.5 442.6,128.9 443.1,129.3 443.5,127.3 444.0,129.1 444.4,128.4 444.9,130.8 445.3,129.6 445.8,128.0 446.2,127.8 446.7,126.8 447.1,124.0 447.6,122.0 448.0,123.3 448.5,120.5 448.9,118.2 449.4,115.2 449.8,114.9 450.3,117.5 450.7,118.0 451.2,117.3 451.6,116.3 452.1,113.5 452.5,115.6 453.0,111.9 453.4,111.2 453.9,110.0 454.3,108.4 454.8,110.1 455.2,110.9 455.7,108.3 456.1,108.0 456.6,110.3 457.0,111.6 457.5,109.5 457.9,108.6 458.4,110.3 458.8,112.4 459.3,113.0 459.7,113.3 460.2,112.3 460.6,110.0 461.1,113.9 461.5,110.6 462.0,109.2 462.4,108.4 462.9,109.2 463.3,107.2 463.8,109.1 464.2,106.1 464.7,103.8 465.1,102.7 465.6,103.7 466.0,102.9 466.5,101.0 466.9,100.2 467.4,98.5 467.8,101.8 468.3,101.9 468.7,104.8 469.2,106.7 469.6,106.4 470.1,104.3 470.5,106.5 471.0,108.9 471.4,110.6 471.9,110.9 472.3,115.1 472.8,116.2 473.2,116.9 473.7,117.2 474.1,118.6 474.6,116.4 475.0,118.9 475.5,117.1 475.9,117.7 476.4,116.9 476.8,115.4 477.3,115.0 477.7,114.2 478.2,113.6 478.6,111.4 479.1,111.6 479.5,109.0 480.0,107.8 480.4,106.4 480.9,104.8 481.3,109.0 481.8,110.4 482.2,111.6 482.7,113.4 483.1,114.8 483.6,111.9 484.0,115.7 484.5,115.8 484.9,116.5 485.4,117.8 485.8,119.4 486.3,120.3 486.7,120.1 487.2,117.5 487.6,115.7 488.1,114.8 488.5,116.6 489.0,114.0 489.4,113.2 489.9,111.2 490.3,108.4 490.8,110.0 491.2,110.4 491.7,112.3 492.1,111.0 492.6,109.0 493.0,110.2 493.5,109.1 493.9,108.7 494.4,108.3 494.8,112.1 495.3,111.3 495.7,111.7 496.2,111.6 496.6,116.2 497.1,115.1 497.5,119.5 498.0,117.0 498.4,116.0 498.9,119.4 499.3,117.3 499.8,115.0 500.2,115.4 500.7,114.8 501.1,117.6 501.6,119.6 502.0,117.8 502.5,120.1 502.9,122.6 503.4,122.2 503.8,120.2 504.3,122.1 504.7,120.3 505.2,120.6 505.6,117.9 506.1,119.1 506.5,119.1 507.0,115.9 507.4,114.7 507.9,114.4 508.3,114.2 508.8,115.2 509.2,112.9 509.7,108.6 510.1,110.1 510.6,107.0 511.0,107.2 511.5,107.3 511.9,104.6 512.4,102.8 512.8,103.2 513.3,103.9 513.7,103.8 514.2,101.9 514.6,99.3 515.1,98.6 515.5,102.2 516.0,100.0 516.4,96.5 516.9,95.8 517.3,97.2 517.8,98.2 518.2,97.6 518.7,98.2 519.1,99.1 519.6,96.9 520.0,96.0 520.5,99.8 520.9,100.3 521.4,104.6 521.8,103.3 522.3,100.6 522.7,101.0 523.2,101.0 523.6,106.0 524.1,103.8 524.5,102.7 525.0,104.8 525.4,103.1 525.9,102.0 526.3,98.2 526.8,99.4 527.2,98.7 527.7,97.4 528.1,95.0 528.6,96.5 529.0,95.6 529.5,94.0 529.9,93.8 530.4,96.3 530.8,99.0 531.3,105.0 531.7,106.6 532.2,110.3 532.6,112.4 533.1,116.6 533.5,118.4 534.0,118.5 534.4,118.7 534.9,117.1 535.3,116.7 535.8,115.7 536.2,117.1 536.7,115.3 537.1,115.0 537.6,114.6 538.0,114.1 538.5,111.5 538.9,114.1 539.4,114.3 539.8,110.6 540.3,107.8 540.7,107.2 541.2,103.6 541.6,107.6 542.1,106.4 542.5,104.7 543.0,103.5 543.4,103.4 543.9,103.5 544.3,103.1 544.8,103.6 545.2,103.4 545.7,103.5 546.1,102.0 546.6,103.0 547.0,101.3 547.5,100.6 547.9,97.8 548.4,97.2 548.8,94.7 549.3,95.4 549.7,94.5 550.2,93.1 550.6,92.0 551.1,92.3 551.5,93.4 552.0,91.9 552.4,92.9 552.9,92.5 553.3,92.6 553.8,90.9 554.2,89.4 554.7,91.7 555.1,89.2 555.6,91.3 556.0,91.6 556.5,89.3 556.9,87.5 557.4,90.9 557.8,91.0 558.3,87.6 558.7,87.5 559.2,88.5 559.6,88.0 560.1,87.3 560.5,87.5 561.0,87.6 561.4,90.7 561.9,89.4 562.3,91.0 562.8,94.1 563.2,95.3 563.7,94.2 564.1,96.1 564.6,97.1 565.0,96.6 565.5,100.0 565.9,99.8 566.4,101.2 566.8,99.1 567.3,100.2 567.7,97.0 568.2,98.5 568.6,98.9 569.1,95.2 569.5,98.4 570.0,99.6 570.4,101.3 570.9,103.8 571.3,102.1 571.8,100.8 572.2,101.1 572.7,100.5 573.1,102.9 573.6,105.9 574.0,106.6 574.5,104.2 574.9,101.3 575.4,98.2 575.8,96.0 576.3,91.5 576.7,90.9 577.2,88.9 577.6,89.6 578.1,87.5 578.5,90.1 579.0,91.8 579.4,91.1 579.9,90.7 580.3,92.3 580.8,92.5 581.2,93.2 581.7,95.7 582.1,96.6 582.6,94.6 583.0,98.2 583.5,98.9 583.9,101.2 584.4,104.5 584.8,108.0 585.3,109.3 585.7,111.8 586.2,112.3 586.6,110.6 587.1,110.7 587.5,111.1 588.0,112.5 588.4,114.0 588.9,115.0 589.3,112.2 589.8,114.2 590.2,116.7 590.7,116.3 591.1,114.1 591.6,112.4 592.0,114.5 592.5,114.5 592.9,114.7 593.4,115.2 593.8,115.5 594.3,115.1 594.7,115.2 595.2,112.4 595.6,114.2 596.1,117.4 596.5,117.7 597.0,118.0 597.4,120.0 597.9,120.3 598.3,121.5 598.8,124.1 599.2,123.7 599.7,125.7 600.1,127.6 600.6,127.1 601.0,128.8 601.2,127.5 601.2,181.0 601.6,127.5 601.5,129.3 601.9,128.3 602.4,123.7 602.8,124.6 603.3,122.5 603.7,124.8 604.2,118.2 604.6,118.9 605.1,120.2 605.5,120.0 606.0,119.0 606.4,119.7 606.9,121.7 607.3,119.9 607.8,117.9 608.2,121.2 608.7,118.2 609.2,119.5 609.6,115.6 610.1,116.6 610.5,118.4 611.0,115.3 611.4,115.8 611.9,115.9 612.3,115.6 612.8,115.1 613.2,112.7 613.7,113.7 614.1,112.6 614.6,110.8 615.0,112.6 615.5,111.2 615.9,111.8 616.4,113.9 616.8,114.3 617.3,112.9 617.7,110.8 618.2,111.4 618.6,107.0 619.1,108.5 619.5,111.7 620.0,113.2 620.4,115.1 620.9,113.2 621.3,113.7 621.8,116.6 622.2,117.8 622.7,118.1 623.1,119.3 623.6,122.0 624.0,119.8 624.5,119.0 624.9,123.0 625.4,119.1 625.8,119.0 626.3,120.4 626.7,123.3 627.2,120.7 627.6,121.1 628.1,117.9 628.5,115.8 629.0,118.4 629.4,119.0 629.9,118.3 630.3,116.4 630.8,118.0 631.2,118.5 631.7,120.6 632.1,119.8 632.6,119.0 633.0,119.8 633.5,122.6 633.9,121.4 634.4,121.7 634.8,120.5 635.3,118.6 635.7,119.1 636.2,118.4 636.6,116.9 637.1,112.7 637.5,113.1 638.0,110.9 638.4,108.2 638.9,109.8 639.3,107.8 639.8,106.6 640.2,105.8 640.7,106.6 641.1,105.2 641.6,105.2 642.0,106.8 642.5,105.6 642.9,106.9 643.4,106.6 643.8,107.3 644.3,108.6 644.7,111.1 645.2,109.7 645.6,110.1 646.1,106.9 646.5,105.7 647.0,104.1 647.4,104.5 647.9,102.0 648.3,102.5 648.8,101.8 649.2,99.4 649.7,101.1 650.1,99.5 650.6,98.2 651.0,99.6 651.5,101.6 651.9,100.9 652.4,102.8 652.8,100.7 653.3,100.0 653.7,99.4 654.2,97.8 654.6,98.4 655.1,96.6 655.5,97.8 656.0,97.2 656.4,95.3 656.9,96.6 657.3,98.5 657.8,98.0 658.2,99.2 658.7,99.6 659.1,100.8 659.6,100.6 660.0,100.3 660.5,100.1 660.9,101.0 661.4,101.6 661.8,103.9 662.3,105.8 662.7,104.8 663.2,104.0 663.6,107.3 664.1,105.5 664.5,107.4 665.0,108.0 665.4,107.9 665.9,109.0 666.3,111.9 666.8,110.6 667.2,113.4 667.7,113.3 668.1,114.6 668.6,115.6 669.0,117.5 669.5,117.0 669.9,119.8 670.4,119.2 670.8,121.3 671.3,120.1 671.7,119.1 672.2,120.9 672.6,118.9 673.1,119.2 673.5,119.4 674.0,117.6 674.4,118.3 674.9,118.2 675.3,116.6 675.8,115.8 676.2,115.4 676.7,115.8 677.1,118.0 677.6,118.3 678.0,118.1 678.5,117.4 678.9,114.9 679.4,114.5 679.8,116.2 680.3,112.7 680.7,112.9 681.2,113.6 681.6,116.1 682.1,115.2 682.5,115.0 683.0,115.8 683.4,115.3 683.9,114.3 684.3,112.0 684.8,111.5 685.2,109.1 685.7,107.1 686.1,107.7 686.6,105.6 687.0,106.8 687.5,108.3 687.9,103.7 688.4,103.5 688.8,101.5 689.3,100.2 689.7,95.7 690.2,97.1 690.6,96.4 691.1,97.7 691.5,100.0 692.0,100.1 692.4,99.7 692.9,98.8 693.3,99.4 693.8,100.7 694.2,104.3 694.7,105.7 695.1,106.0 695.6,106.6 696.0,105.7 696.5,108.7 696.9,109.2 697.4,108.5 697.8,106.2 698.3,104.0 698.7,105.0 699.2,108.6 699.6,108.7 700.1,108.9 700.5,112.4 701.0,112.6 701.4,114.4 701.9,111.9 702.3,110.4 702.8,109.9 703.2,111.4 703.7,112.5 704.1,113.5 704.6,111.3 705.0,109.0 705.5,107.0 705.9,107.9 706.4,108.8 706.8,107.1 707.3,106.0 707.7,103.1 708.2,102.0 708.6,104.2 709.1,107.8 709.5,109.6 710.0,107.9 710.4,110.0 710.9,109.6 711.3,109.8 711.8,110.3 712.2,111.6 712.7,110.4 713.1,109.1 713.6,110.2 714.0,110.3 714.5,111.3 714.9,110.0 715.4,106.8 715.8,105.5 716.3,106.7 716.7,105.7 717.2,105.2 717.6,104.3 718.1,101.8 718.5,105.5 719.0,103.9 719.4,104.2 719.9,104.6 720.3,103.9 720.8,105.2 721.2,104.3 721.7,102.6 722.1,101.8 722.6,103.1 723.0,101.3 723.5,101.5 723.9,100.5 724.4,97.4 724.8,98.8 725.3,99.9 725.7,98.4 726.2,97.2 726.6,98.0 727.1,98.7 727.5,98.6 728.0,97.8 728.4,96.3 728.9,96.5 729.3,93.9 729.8,93.4 730.2,95.9 730.7,94.7 731.1,90.1 731.6,92.7 732.0,92.3 732.5,92.1 732.9,91.9 733.2,91.8 733.2,154.0 733.6,91.8 733.4,88.2 733.8,90.0 734.3,87.7 734.7,90.3 735.2,88.0 735.6,87.6 736.1,88.7 736.5,90.2 737.0,87.8 737.4,87.3 737.9,86.1 738.3,85.0 738.8,87.6 739.2,85.9 739.7,86.0 740.1,87.7 740.6,88.1 741.0,91.9 741.5,89.3 741.9,88.7 742.4,89.8 742.8,89.5 743.3,89.5 743.7,91.0 744.2,92.0 744.6,91.6 745.1,87.0 745.5,87.3 746.0,86.5 746.4,90.6 746.9,91.9 747.3,91.8 747.8,92.6 748.2,92.3 748.7,92.0 749.1,90.7 749.6,91.6 750.0,92.1 750.5,92.0 750.9,93.5 751.4,92.5 751.8,93.1 752.3,94.0 752.7,93.7 753.2,91.6 753.3,91.9 753.3,111.3 753.7,91.9 753.6,90.9 754.1,90.9 754.5,92.7 755.0,93.9 755.4,91.6 755.9,90.6 756.3,90.8 756.8,92.6 757.2,91.8 757.7,89.1 758.1,89.1 758.6,89.6 759.0,89.1 759.5,89.2 759.9,86.5 760.4,85.1 760.8,85.3 761.3,86.8 761.7,87.1 762.2,88.2 762.6,89.2 763.1,88.1 763.5,85.7 764.0,88.4 764.4,87.5 764.9,89.5 765.3,91.4 765.8,90.7 766.2,91.0 766.7,91.7 767.1,89.4 767.6,90.4 768.0,89.9 768.5,88.7 768.9,88.5 769.4,88.4 769.8,91.4 770.3,91.0 770.7,93.1 771.2,93.0 771.6,96.4 772.1,98.0 772.5,94.8 773.0,97.8 773.4,95.0 773.9,98.7 774.3,98.8 774.8,98.9 775.2,99.3 775.7,99.7 776.1,98.6 776.6,100.1 777.0,102.1 777.5,102.3 777.9,101.9 778.4,101.7 778.8,99.2 779.3,102.6 779.7,102.0 780.2,100.8 780.6,103.9 781.1,103.2 781.5,107.6 782.0,116.0 782.4,119.6 782.9,127.2 783.3,133.7 783.8,132.2 784.2,130.9 784.7,129.3 785.1,127.1 785.6,127.2 786.0,128.2 786.5,128.3 786.9,128.2 787.4,127.7 787.8,128.3 788.3,133.7 788.7,130.8 789.2,132.3 789.6,133.0 790.1,133.6 790.5,135.0 791.0,134.0 791.4,133.8 791.9,136.4 792.3,137.6 792.8,139.5 793.2,138.9 793.7,139.3 794.1,141.6 794.6,139.9 794.7,141.1 794.7,153.3 795.1,141.1 795.0,140.6 795.5,140.2 795.9,139.2 796.4,139.2 796.8,142.3 797.3,141.1 797.7,138.4 798.2,139.7 798.6,140.8 799.1,142.1 799.5,140.2 800.0,142.4 800.4,142.8 800.9,144.3 801.3,146.4 801.8,146.6 802.0,145.7 802.0,149.3 802.4,145.7 802.2,145.6 802.7,143.9 803.1,142.4 803.6,145.2 804.0,144.6 804.5,139.2 804.9,140.6 805.4,140.5 805.8,139.8 806.3,137.6 806.7,137.9 807.2,137.1 807.6,138.0 808.1,137.5 808.5,135.1 809.0,134.5 809.4,135.7 809.9,137.3 810.3,134.6 810.8,135.6 811.2,136.6 811.7,133.7 812.1,135.8 812.6,135.4 813.0,133.4 813.5,135.3 813.9,136.7 814.4,138.1 814.8,138.5 815.3,137.9 815.7,134.8 816.2,137.2 816.6,136.6 817.1,138.4 817.5,138.1 818.0,137.2 818.4,136.8 818.9,137.0 819.3,137.5 819.8,138.9 820.2,138.9 820.7,139.0 821.1,140.3 821.6,139.1 822.0,141.3 822.5,142.7" fill="none" stroke="#ff0000" stroke-width="2.08" stroke-linejoin="round"/>
<polyline points="823.64,138.13 898.32,117.73 974.66,125.28 1126.59,140.32" fill="none" stroke="#0000cd" stroke-width="2.08" stroke-linejoin="round"/>
</g>
<rect x="75.5" y="70.5" width="1102.0" height="207.0" fill="none" stroke="#000" stroke-width="1.11"/>
<line x1="70.64" x2="75.5" y1="273.50" y2="273.50" stroke="#000" stroke-width="1.11"/>
<line x1="70.64" x2="75.5" y1="238.50" y2="238.50" stroke="#000" stroke-width="1.11"/>
<line x1="70.64" x2="75.5" y1="203.50" y2="203.50" stroke="#000" stroke-width="1.11"/>
<line x1="70.64" x2="75.5" y1="168.50" y2="168.50" stroke="#000" stroke-width="1.11"/>
<line x1="70.64" x2="75.5" y1="133.50" y2="133.50" stroke="#000" stroke-width="1.11"/>
<line x1="70.64" x2="75.5" y1="99.50" y2="99.50" stroke="#000" stroke-width="1.11"/>
<line x1="150.50" x2="150.50" y1="277.5" y2="282.36" stroke="#000" stroke-width="1.11"/>
<line x1="301.50" x2="301.50" y1="277.5" y2="282.36" stroke="#000" stroke-width="1.11"/>
<line x1="453.50" x2="453.50" y1="277.5" y2="282.36" stroke="#000" stroke-width="1.11"/>
<line x1="604.50" x2="604.50" y1="277.5" y2="282.36" stroke="#000" stroke-width="1.11"/>
<line x1="756.50" x2="756.50" y1="277.5" y2="282.36" stroke="#000" stroke-width="1.11"/>
<line x1="908.50" x2="908.50" y1="277.5" y2="282.36" stroke="#000" stroke-width="1.11"/>
<line x1="1059.50" x2="1059.50" y1="277.5" y2="282.36" stroke="#000" stroke-width="1.11"/>
<text transform="translate(64.60,278.10) scale(1.0790,1)" x="-20.46 -12.28 -8.19" y="0" font-size="14.72" fill="#000">5.5</text>
<text transform="translate(64.60,243.30) scale(1.0790,1)" x="-20.46 -12.28 -8.19" y="0" font-size="14.72" fill="#000">6.0</text>
<text transform="translate(64.60,208.50) scale(1.0790,1)" x="-20.46 -12.28 -8.19" y="0" font-size="14.72" fill="#000">6.5</text>
<text transform="translate(64.60,173.70) scale(1.0790,1)" x="-20.46 -12.28 -8.19" y="0" font-size="14.72" fill="#000">7.0</text>
<text transform="translate(64.60,138.90) scale(1.0790,1)" x="-20.46 -12.28 -8.19" y="0" font-size="14.72" fill="#000">7.5</text>
<text transform="translate(64.60,104.10) scale(1.0790,1)" x="-20.46 -12.28 -8.19" y="0" font-size="14.72" fill="#000">8.0</text>
<text transform="translate(149.25,297.90) scale(1.0788,1)" x="-16.37 -8.18 -0.00 8.18" y="0" font-size="14.72" fill="#000">2021</text>
<text transform="translate(300.73,297.90) scale(1.0788,1)" x="-16.37 -8.18 -0.00 8.18" y="0" font-size="14.72" fill="#000">2022</text>
<text transform="translate(452.20,297.90) scale(1.0788,1)" x="-16.37 -8.18 -0.00 8.18" y="0" font-size="14.72" fill="#000">2023</text>
<text transform="translate(603.67,297.90) scale(1.0788,1)" x="-16.37 -8.18 -0.00 8.18" y="0" font-size="14.72" fill="#000">2024</text>
<text transform="translate(755.56,297.90) scale(1.0788,1)" x="-16.37 -8.18 -0.00 8.18" y="0" font-size="14.72" fill="#000">2025</text>
<text transform="translate(907.04,297.90) scale(1.0788,1)" x="-16.37 -8.18 -0.00 8.18" y="0" font-size="14.72" fill="#000">2026</text>
<text transform="translate(1058.51,297.90) scale(1.0788,1)" x="-16.37 -8.18 -0.00 8.18" y="0" font-size="14.72" fill="#000">2027</text>
<text transform="translate(34.50,176.30) rotate(-90) scale(1.0095,1)" x="-17.52 -8.35 -2.80 0.85 8.44" y="0" font-size="14.72" fill="#000">Price</text>
<text transform="translate(625.40,316.70) scale(1.0671,1)" x="-15.85 -5.64 2.94 7.45" y="0" font-size="14.72" fill="#000">Date</text>
<rect x="82.6" y="77.70" width="136" height="129.2" rx="2.8" ry="2.8" fill="#fff" fill-opacity="0.8" stroke="#cccccc" stroke-opacity="0.8" stroke-width="1.11"/>
<line x1="87.2" x2="116.0" y1="89.00" y2="89.00" stroke="#008000" stroke-width="2.08"/>
<text transform="translate(127.20,94.00) scale(1.0539,1)" x="-0.36 10.10 13.65 22.00" y="0" font-size="14.72" fill="#000">High</text>
<line x1="87.2" x2="116.0" y1="110.00" y2="110.00" stroke="#ff0000" stroke-width="2.08"/>
<text transform="translate(127.20,115.00) scale(1.0122,1)" x="-0.27 7.49 16.07" y="0" font-size="14.72" fill="#000">Low</text>
<line x1="87.2" x2="116.0" y1="130.90" y2="130.90" stroke="#0000cd" stroke-width="2.08"/>
<text transform="translate(127.20,135.90) scale(1.0048,1)" x="-0.49 9.93 13.61 21.85 29.28" y="0" font-size="14.72" fill="#000">Close</text>
<rect x="88.1" y="147.20" width="26.9" height="9.7" fill="#008000" fill-opacity="0.25"/>
<text transform="translate(127.20,157.10) scale(1.0336,1)" x="-0.26 10.33 14.00 22.51 30.94 34.47 44.23 52.59 61.11 69.50" y="0" font-size="14.72" fill="#000">High Range</text>
<rect x="88.1" y="168.10" width="26.9" height="9.7" fill="#ff0000" fill-opacity="0.25"/>
<text transform="translate(127.20,178.00) scale(1.0176,1)" x="-0.29 7.43 15.96 26.97 30.61 40.50 48.99 57.64 66.16" y="0" font-size="14.72" fill="#000">Low Range</text>
<rect x="88.1" y="188.90" width="26.9" height="9.7" fill="#0000ff" fill-opacity="0.5"/>
<text transform="translate(127.20,198.80) scale(1.0137,1)" x="-0.53 9.83 13.46 21.62 28.99 37.42 41.08 51.01 59.54 68.22 76.78" y="0" font-size="14.72" fill="#000">Close Range</text>
<clipPath id="clip2"><rect x="75.5" y="335.5" width="1102.0" height="207.0"/></clipPath>
<g clip-path="url(#clip2)">
<polygon points="124.50,447.00 371.50,370.10 624.00,344.60 1126.50,344.60 1126.50,442.10 624.00,402.70 371.50,399.20 124.50,449.50" fill="#008000" fill-opacity="0.25"/>
<polygon points="124.50,459.40 371.50,411.20 624.00,425.30 1126.50,453.40 1126.50,531.30 624.00,529.60 371.50,460.00 124.50,460.00" fill="#ff0000" fill-opacity="0.25"/>
<polygon points="124.50,449.50 371.50,399.20 624.00,402.70 1126.50,442.10 1126.50,453.40 624.00,425.30 371.50,411.20 124.50,459.40" fill="#0000ff" fill-opacity="0.5"/>
<line x1="75.5" x2="1177.5" y1="538.50" y2="538.50" stroke="#b0b0b0" stroke-width="1.11"/>
<line x1="75.5" x2="1177.5" y1="506.50" y2="506.50" stroke="#b0b0b0" stroke-width="1.11"/>
<line x1="75.5" x2="1177.5" y1="473.50" y2="473.50" stroke="#b0b0b0" stroke-width="1.11"/>
<line x1="75.5" x2="1177.5" y1="441.50" y2="441.50" stroke="#b0b0b0" stroke-width="1.11"/>
<line x1="75.5" x2="1177.5" y1="408.50" y2="408.50" stroke="#b0b0b0" stroke-width="1.11"/>
<line x1="75.5" x2="1177.5" y1="376.50" y2="376.50" stroke="#b0b0b0" stroke-width="1.11"/>
<line x1="75.5" x2="1177.5" y1="343.50" y2="343.50" stroke="#b0b0b0" stroke-width="1.11"/>
<line x1="151.50" x2="151.50" y1="335.5" y2="542.5" stroke="#b0b0b0" stroke-width="1.11"/>
<line x1="278.50" x2="278.50" y1="335.5" y2="542.5" stroke="#b0b0b0" stroke-width="1.11"/>
<line x1="404.50" x2="404.50" y1="335.5" y2="542.5" stroke="#b0b0b0" stroke-width="1.11"/>
<line x1="527.50" x2="527.50" y1="335.5" y2="542.5" stroke="#b0b0b0" stroke-width="1.11"/>
<line x1="652.50" x2="652.50" y1="335.5" y2="542.5" stroke="#b0b0b0" stroke-width="1.11"/>
<line x1="778.50" x2="778.50" y1="335.5" y2="542.5" stroke="#b0b0b0" stroke-width="1.11"/>
<line x1="904.50" x2="904.50" y1="335.5" y2="542.5" stroke="#b0b0b0" stroke-width="1.11"/>
<line x1="1028.50" x2="1028.50" y1="335.5" y2="542.5" stroke="#b0b0b0" stroke-width="1.11"/>
<line x1="1153.50" x2="1153.50" y1="335.5" y2="542.5" stroke="#b0b0b0" stroke-width="1.11"/>
<polyline points="124.50,449.30 371.50,411.20 624.00,425.30 1126.50,453.40" fill="none" stroke="#0000cd" stroke-width="2.08" stroke-linejoin="round"/>
</g>
<rect x="75.5" y="335.5" width="1102.0" height="207.0" fill="none" stroke="#000" stroke-width="1.11"/>
<line x1="70.64" x2="75.5" y1="538.50" y2="538.50" stroke="#000" stroke-width="1.11"/>
<line x1="70.64" x2="75.5" y1="506.50" y2="506.50" stroke="#000" stroke-width="1.11"/>
<line x1="70.64" x2="75.5" y1="473.50" y2="473.50" stroke="#000" stroke-width="1.11"/>
<line x1="70.64" x2="75.5" y1="441.50" y2="441.50" stroke="#000" stroke-width="1.11"/>
<line x1="70.64" x2="75.5" y1="408.50" y2="408.50" stroke="#000" stroke-width="1.11"/>
<line x1="70.64" x2="75.5" y1="376.50" y2="376.50" stroke="#000" stroke-width="1.11"/>
<line x1="70.64" x2="75.5" y1="343.50" y2="343.50" stroke="#000" stroke-width="1.11"/>
<line x1="151.50" x2="151.50" y1="542.5" y2="547.36" stroke="#000" stroke-width="1.11"/>
<line x1="278.50" x2="278.50" y1="542.5" y2="547.36" stroke="#000" stroke-width="1.11"/>
<line x1="404.50" x2="404.50" y1="542.5" y2="547.36" stroke="#000" stroke-width="1.11"/>
<line x1="527.50" x2="527.50" y1="542.5" y2="547.36" stroke="#000" stroke-width="1.11"/>
<line x1="652.50" x2="652.50" y1="542.5" y2="547.36" stroke="#000" stroke-width="1.11"/>
<line x1="778.50" x2="778.50" y1="542.5" y2="547.36" stroke="#000" stroke-width="1.11"/>
<line x1="904.50" x2="904.50" y1="542.5" y2="547.36" stroke="#000" stroke-width="1.11"/>
<line x1="1028.50" x2="1028.50" y1="542.5" y2="547.36" stroke="#000" stroke-width="1.11"/>
<line x1="1153.50" x2="1153.50" y1="542.5" y2="547.36" stroke="#000" stroke-width="1.11"/>
<text transform="translate(65.60,543.40) scale(1.0789,1)" x="-28.64 -20.46 -16.37 -8.19" y="0" font-size="14.72" fill="#000">6.75</text>
<text transform="translate(65.60,510.90) scale(1.0789,1)" x="-28.64 -20.46 -16.37 -8.19" y="0" font-size="14.72" fill="#000">7.00</text>
<text transform="translate(65.60,478.40) scale(1.0789,1)" x="-28.64 -20.46 -16.37 -8.19" y="0" font-size="14.72" fill="#000">7.25</text>
<text transform="translate(65.60,445.90) scale(1.0789,1)" x="-28.64 -20.46 -16.37 -8.19" y="0" font-size="14.72" fill="#000">7.50</text>
<text transform="translate(65.60,413.40) scale(1.0789,1)" x="-28.64 -20.46 -16.37 -8.19" y="0" font-size="14.72" fill="#000">7.75</text>
<text transform="translate(65.60,380.90) scale(1.0789,1)" x="-28.64 -20.46 -16.37 -8.19" y="0" font-size="14.72" fill="#000">8.00</text>
<text transform="translate(65.60,348.40) scale(1.0789,1)" x="-28.64 -20.46 -16.37 -8.19" y="0" font-size="14.72" fill="#000">8.25</text>
<text transform="translate(150.90,562.90) scale(1.0735,1)" x="-26.98 -18.76 -10.54 -2.31 5.77 10.57 18.80" y="0" font-size="14.72" fill="#000">2025-07</text>
<text transform="translate(277.08,562.90) scale(1.0735,1)" x="-26.98 -18.76 -10.54 -2.31 5.77 10.57 18.80" y="0" font-size="14.72" fill="#000">2025-10</text>
<text transform="translate(403.26,562.90) scale(1.0735,1)" x="-26.98 -18.76 -10.54 -2.31 5.77 10.57 18.80" y="0" font-size="14.72" fill="#000">2026-01</text>
<text transform="translate(526.69,562.90) scale(1.0735,1)" x="-26.98 -18.76 -10.54 -2.31 5.77 10.57 18.80" y="0" font-size="14.72" fill="#000">2026-04</text>
<text transform="translate(651.50,562.90) scale(1.0735,1)" x="-26.98 -18.76 -10.54 -2.31 5.77 10.57 18.80" y="0" font-size="14.72" fill="#000">2026-07</text>
<text transform="translate(777.68,562.90) scale(1.0735,1)" x="-26.98 -18.76 -10.54 -2.31 5.77 10.57 18.80" y="0" font-size="14.72" fill="#000">2026-10</text>
<text transform="translate(903.85,562.90) scale(1.0735,1)" x="-26.98 -18.76 -10.54 -2.31 5.77 10.57 18.80" y="0" font-size="14.72" fill="#000">2027-01</text>
<text transform="translate(1027.29,562.90) scale(1.0735,1)" x="-26.98 -18.76 -10.54 -2.31 5.77 10.57 18.80" y="0" font-size="14.72" fill="#000">2027-04</text>
<text transform="translate(1152.10,562.90) scale(1.0735,1)" x="-26.98 -18.76 -10.54 -2.31 5.77 10.57 18.80" y="0" font-size="14.72" fill="#000">2027-07</text>
<text transform="translate(26.60,440.70) rotate(-90) scale(1.0095,1)" x="-17.52 -8.35 -2.80 0.85 8.44" y="0" font-size="14.72" fill="#000">Price</text>
<text transform="translate(625.40,581.70) scale(1.0671,1)" x="-15.85 -5.64 2.94 7.45" y="0" font-size="14.72" fill="#000">Date</text>
<rect x="82.6" y="342.70" width="136" height="129.2" rx="2.8" ry="2.8" fill="#fff" fill-opacity="0.8" stroke="#cccccc" stroke-opacity="0.8" stroke-width="1.11"/>
<line x1="87.2" x2="116.0" y1="354.00" y2="354.00" stroke="#008000" stroke-width="2.08"/>
<text transform="translate(127.20,359.00) scale(1.0539,1)" x="-0.36 10.10 13.65 22.00" y="0" font-size="14.72" fill="#000">High</text>
<line x1="87.2" x2="116.0" y1="375.00" y2="375.00" stroke="#ff0000" stroke-width="2.08"/>
<text transform="translate(127.20,380.00) scale(1.0122,1)" x="-0.27 7.49 16.07" y="0" font-size="14.72" fill="#000">Low</text>
<line x1="87.2" x2="116.0" y1="395.90" y2="395.90" stroke="#0000cd" stroke-width="2.08"/>
<text transform="translate(127.20,400.90) scale(1.0048,1)" x="-0.49 9.93 13.61 21.85 29.28" y="0" font-size="14.72" fill="#000">Close</text>
<rect x="88.1" y="412.20" width="26.9" height="9.7" fill="#008000" fill-opacity="0.25"/>
<text transform="translate(127.20,422.10) scale(1.0336,1)" x="-0.26 10.33 14.00 22.51 30.94 34.47 44.23 52.59 61.11 69.50" y="0" font-size="14.72" fill="#000">High Range</text>
<rect x="88.1" y="433.10" width="26.9" height="9.7" fill="#ff0000" fill-opacity="0.25"/>
<text transform="translate(127.20,443.00) scale(1.0176,1)" x="-0.29 7.43 15.96 26.97 30.61 40.50 48.99 57.64 66.16" y="0" font-size="14.72" fill="#000">Low Range</text>
<rect x="88.1" y="453.90" width="26.9" height="9.7" fill="#0000ff" fill-opacity="0.5"/>
<text transform="translate(127.20,463.80) scale(1.0137,1)" x="-0.53 9.83 13.46 21.62 28.99 37.42 41.08 51.01 59.54 68.22 76.78" y="0" font-size="14.72" fill="#000">Close Range</text>
<text transform="translate(600.00,25.80) scale(1.0394,1)" x="-309.78 -299.48 -286.63 -274.91 -264.78 -254.49 -243.27 -238.68 -227.23 -222.05 -216.80 -206.50 -193.66 -181.94 -171.81 -161.51 -148.83 -137.39 -125.85 -119.70 -114.44 -110.27 -100.31 -90.16 -80.09 -74.42 -68.81 -58.64 -52.21 -36.98 -31.82 -21.49 -15.00 -10.83 -2.01 7.91 13.07 23.40 29.28 39.28 49.52 53.69 63.18 69.03 73.20 83.16 93.23 98.46 103.70 108.88 119.05 129.23 139.41 149.49 154.67 164.84 175.02 185.19 195.27 200.45 210.63 220.81 230.98 241.06 246.24 250.24 257.18 267.32 277.38 282.56 292.73 302.91" y="0" font-size="17.66" fill="#000">SGDSEK X (SGDSEK=X) long term price prediction : 2025,2026,2027 (Jun 12)</text>
<text transform="translate(626.30,61.50) scale(1.0525,1)" x="-328.22 -318.38 -308.55 -295.77 -285.69 -279.91 -270.04 -260.06 -254.99 -244.81 -235.67 -231.83 -221.11 -215.33 -205.45 -195.30 -191.22 -181.82 -176.36 -171.69 -160.98 -154.56 -150.47 -141.76 -131.94 -127.05 -118.37 -108.28 -93.19 -88.29 -78.44 -68.43 -58.45 -54.02 -39.92 -30.07 -19.92 -15.83 -7.15 2.83 5.86 16.58 22.36 32.24 42.39 46.47 55.87 61.65 65.74 75.57 85.54 90.44 99.11 109.20 124.30 129.19 139.04 149.06 159.03 163.46 177.56 187.41 197.56 201.65 210.34 220.31 223.99 235.37 245.22 255.20 259.62 268.40 277.16 281.02 289.60 294.50 303.18 313.27" y="0" font-size="17.66" fill="#000">powered by Predict-Price.com and MagicalPrediction.com and MagicalAnalysis.com</text>
</svg></body></html>
